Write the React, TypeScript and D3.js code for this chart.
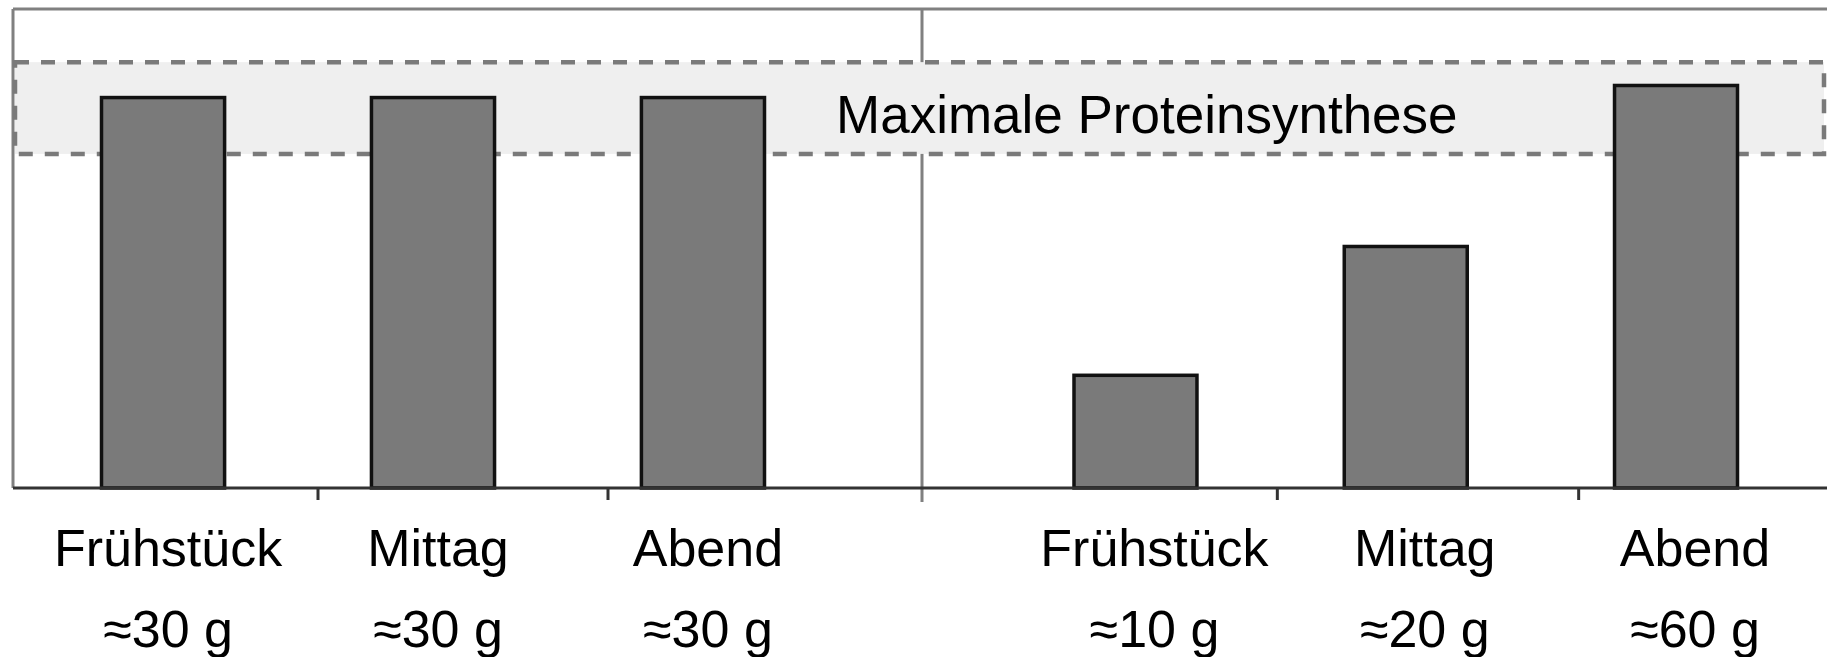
import { useEffect, useRef } from "react";
import * as d3 from "d3";

// two panels: same daily protein, evenly vs unevenly spread over the meals
const meals = ["Frühstück", "Mittag", "Abend"];
const leftAmounts = ["≈30 g", "≈30 g", "≈30 g"];
const rightAmounts = ["≈10 g", "≈20 g", "≈60 g"];
// relative muscle protein synthesis (right Abend = 100)
const leftSynthesis = [97, 97, 97];
const rightSynthesis = [28, 60, 100];
// band of maximal synthesis
const maxBand = [83, 105.8];
const bandLabel = "Maximale Proteinsynthese";

const W = 1827;
const H = 657;

const App = () => {
  const svgRef = useRef<SVGSVGElement | null>(null);

  useEffect(() => {
    document.body.style.margin = "0";
    const svg = d3.select(svgRef.current);
    svg.selectAll("*").remove();

    const left = 13;
    const right = W;
    const top = 9;
    const base = 488;
    const divider = 922;
    const font = "'Liberation Sans', Arial, sans-serif";

    const y = d3.scaleLinear().domain([0, 119]).range([base, top]);

    const xLeft = d3
      .scaleBand()
      .domain(meals)
      .range([101.5, 764.5])
      .paddingInner(0.544)
      .paddingOuter(0);
    const xRight = d3
      .scaleBand()
      .domain(meals)
      .range([1074, 1737.5])
      .paddingInner(0.545)
      .paddingOuter(0);

    // tick bands (category boundaries on the x axis)
    const tLeft = d3.scaleBand().domain(meals).range([28, 898]);
    const tRight = d3.scaleBand().domain(meals).range([976, 1880]);

    // frame
    svg
      .append("line")
      .attr("x1", left)
      .attr("x2", right)
      .attr("y1", top)
      .attr("y2", top)
      .attr("stroke", "#808080")
      .attr("stroke-width", 3);
    svg
      .append("line")
      .attr("x1", left)
      .attr("x2", left)
      .attr("y1", top)
      .attr("y2", base)
      .attr("stroke", "#808080")
      .attr("stroke-width", 3);
    svg
      .append("line")
      .attr("x1", divider)
      .attr("x2", divider)
      .attr("y1", top)
      .attr("y2", base + 14)
      .attr("stroke", "#808080")
      .attr("stroke-width", 3);

    // max synthesis band
    svg
      .append("rect")
      .attr("x", left + 2)
      .attr("y", y(maxBand[1]))
      .attr("width", right - 3 - (left + 2))
      .attr("height", y(maxBand[0]) - y(maxBand[1]))
      .attr("fill", "#efefef")
      .attr("stroke", "#7a7a7a")
      .attr("stroke-width", 4.5)
      .attr("stroke-dasharray", "14,12");

    svg
      .append("text")
      .attr("x", 836)
      .attr("y", y(maxBand[0]) - 21)
      .attr("font-family", font)
      .attr("font-size", 53)
      .attr("fill", "#000")
      .text(bandLabel);

    const panels = [
      { x: xLeft, t: tLeft, vals: leftSynthesis, amounts: leftAmounts, dx: 5 },
      { x: xRight, t: tRight, vals: rightSynthesis, amounts: rightAmounts, dx: 19 },
    ];

    panels.forEach((p) => {
      const g = svg.append("g");
      g.selectAll("rect")
        .data(meals)
        .enter()
        .append("rect")
        .attr("x", (d) => p.x(d) as number)
        .attr("y", (_, i) => y(p.vals[i]))
        .attr("width", p.x.bandwidth())
        .attr("height", (_, i) => base - y(p.vals[i]))
        .attr("fill", "#7a7a7a")
        .attr("stroke", "#111")
        .attr("stroke-width", 3.5);

      // inner ticks
      g.selectAll(".tick")
        .data(meals.slice(1))
        .enter()
        .append("line")
        .attr("x1", (d) => p.t(d) as number)
        .attr("x2", (d) => p.t(d) as number)
        .attr("y1", base)
        .attr("y2", base + 12)
        .attr("stroke", "#333")
        .attr("stroke-width", 3);

      const cx = (d: string) => (p.x(d) as number) + p.x.bandwidth() / 2 + p.dx;
      g.selectAll(".meal")
        .data(meals)
        .enter()
        .append("text")
        .attr("x", cx)
        .attr("y", 566)
        .attr("text-anchor", "middle")
        .attr("font-family", font)
        .attr("font-size", 52)
        .text((d) => d);
      g.selectAll(".amt")
        .data(meals)
        .enter()
        .append("text")
        .attr("x", cx)
        .attr("y", 647)
        .attr("text-anchor", "middle")
        .attr("font-family", font)
        .attr("font-size", 52)
        .text((_, i) => p.amounts[i]);
    });

    // x axis baseline
    svg
      .append("line")
      .attr("x1", left)
      .attr("x2", right)
      .attr("y1", base)
      .attr("y2", base)
      .attr("stroke", "#333")
      .attr("stroke-width", 3);
  }, []);

  return (
    <svg
      ref={svgRef}
      width={W}
      height={H}
      style={{ display: "block", background: "#fff" }}
    ></svg>
  );
};

export default App;
